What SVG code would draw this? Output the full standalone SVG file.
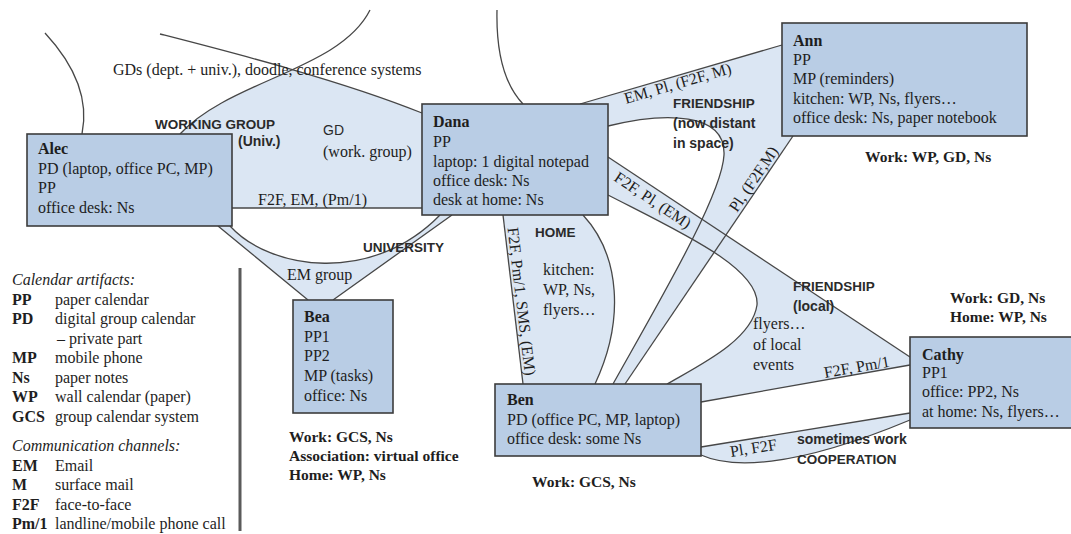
<svg xmlns="http://www.w3.org/2000/svg" width="1071" height="534" viewBox="0 0 1071 534">
  <style>
    .band { fill: #dbe6f3; stroke: none; }
    .edge { fill: none; stroke: #474747; stroke-width: 1.3; }
    .box { fill: #b9cde5; stroke: #3c3c3c; stroke-width: 1.6; }
    .t { font-family: "Liberation Serif", "Times New Roman", serif; font-size: 16px; fill: #1e1e1e; }
    .tb { font-family: "Liberation Serif", "Times New Roman", serif; font-size: 16px; font-weight: bold; fill: #1e1e1e; }
    .ctx { font-family: "Liberation Serif", "Times New Roman", serif; font-size: 15.5px; font-weight: bold; fill: #1e1e1e; }
    .grp { font-family: "Liberation Sans", Arial, sans-serif; font-size: 13.5px; font-weight: bold; fill: #2a2a2a; }
    .grpl { font-family: "Liberation Sans", Arial, sans-serif; font-size: 14px; font-weight: bold; fill: #2a2a2a; }
    .sans { font-family: "Liberation Sans", Arial, sans-serif; font-size: 14px; fill: #2a2a2a; }
    .it { font-family: "Liberation Serif", "Times New Roman", serif; font-size: 16px; font-style: italic; fill: #1e1e1e; }
  </style>
  <defs>
    <clipPath id="wgClip">
      <path d="M180,134 C230,80 340,70 370,10 L600,10 L600,260 L180,260 Z"/>
    </clipPath>
  </defs>
  <rect width="1071" height="534" fill="#ffffff"/>

  <g id="connectors">
    <!-- filled relation areas -->
    <path class="band" clip-path="url(#wgClip)" d="M160,34 C230,52 340,80 422,113 L422,208 L232,208 L232,134 L160,134 Z"/>
    <path class="band" d="M218,226 L308,300 L333,300 L452,215 L440,215 C372,285 270,270 230,226 Z"/>
    <path class="band" d="M503,215 L523,384 L595,384 C625,320 620,255 583,215 Z"/>
    <path class="band" d="M580,104 L782,45 L782,136 L793,136 L625,384 L613,384 C660,300 722,195 724,155 C726,112 665,112 608,126 L608,104 Z"/>
    <path class="band" d="M608,157 L910,357 L910,365 L701,402 L701,384 L667,384 C700,365 752,340 757,305 C760,268 680,232 608,195 Z"/>
    <path class="band" d="M701,447 L910,413 L910,420 C790,470 730,468 701,455 Z"/>

    <!-- outlines -->
    <path class="edge" d="M45,33 C70,60 90,95 82,134"/>
    <path class="edge" d="M180,134 C230,80 340,70 370,10"/>
    <path class="edge" d="M160,34 C230,52 340,80 422,113"/>
    <path class="edge" d="M232,208 L422,208"/>
    <path class="edge" d="M218,226 L308,300 M333,300 L452,215"/>
    <path class="edge" d="M230,226 C270,270 372,285 440,215"/>
    <path class="edge" d="M497,10 C496,55 505,85 523,104"/>
    <path class="edge" d="M503,215 L523,384"/>
    <path class="edge" d="M583,215 C620,255 625,320 595,384"/>
    <path class="edge" d="M580,104 L782,45"/>
    <path class="edge" d="M608,126 C665,112 726,112 724,155 C722,195 660,300 613,384"/>
    <path class="edge" d="M793,136 L625,384"/>
    <path class="edge" d="M608,157 L910,357"/>
    <path class="edge" d="M608,195 C680,232 760,268 757,305 C752,340 700,365 667,384"/>
    <path class="edge" d="M910,365 L701,402"/>
    <path class="edge" d="M701,447 L910,413"/>
    <path class="edge" d="M701,455 C730,468 790,470 910,420"/>

    <!-- relation labels -->
    <text class="t" x="113" y="75">GDs (dept. + univ.), doodle, conference systems</text>
    <text class="grp" x="155" y="129">WORKING GROUP</text>
    <text class="grpl" x="238" y="146">(Univ.)</text>
    <text class="sans" x="323" y="135">GD</text>
    <text class="t" x="323" y="157">(work. group)</text>
    <text class="t" x="258" y="205">F2F, EM, (Pm/1)</text>
    <text class="grp" x="363" y="252">UNIVERSITY</text>
    <text class="t" x="287" y="280">EM group</text>

    <text class="t" transform="translate(626,104) rotate(-16.3)">EM, Pl, (F2F, M)</text>
    <text class="grp" x="673" y="108">FRIENDSHIP</text>
    <text class="grpl" x="673" y="128">(now distant</text>
    <text class="grpl" x="673" y="148">in space)</text>
    <text class="t" transform="translate(737,213) rotate(-55.9)">Pl, (F2F,M)</text>
    <text class="t" transform="translate(613,180) rotate(33.7)">F2F, Pl, (EM)</text>

    <text class="t" transform="translate(507.5,228) rotate(83.25)" font-size="15">F2F, Pm/1, SMS, (EM)</text>
    <text class="grp" x="535" y="237">HOME</text>
    <text class="t" x="543" y="275">kitchen:</text>
    <text class="t" x="543" y="295">WP, Ns,</text>
    <text class="t" x="543" y="315">flyers…</text>

    <text class="grp" x="793" y="291">FRIENDSHIP</text>
    <text class="grpl" x="793" y="311">(local)</text>
    <text class="t" x="753" y="329">flyers…</text>
    <text class="t" x="753" y="350">of local</text>
    <text class="t" x="753" y="370">events</text>
    <text class="t" transform="translate(825,378) rotate(-10)" font-size="15">F2F, Pm/1</text>

    <text class="t" transform="translate(731,457) rotate(-9.2)" font-size="14">Pl, F2F</text>
    <text class="grpl" x="797" y="444">sometimes work</text>
    <text class="grp" x="797" y="464">COOPERATION</text>
  </g>

  <g id="node-alec">
    <rect class="box" x="27" y="134" width="205" height="92"/>
    <text class="tb" x="38" y="154">Alec</text>
    <text class="t" x="38" y="174">PD (laptop, office PC, MP)</text>
    <text class="t" x="38" y="193">PP</text>
    <text class="t" x="38" y="213">office desk: Ns</text>
  </g>

  <g id="node-dana">
    <rect class="box" x="422" y="104" width="186" height="111"/>
    <text class="tb" x="433" y="127">Dana</text>
    <text class="t" x="433" y="147">PP</text>
    <text class="t" x="433" y="167">laptop: 1 digital notepad</text>
    <text class="t" x="433" y="186">office desk: Ns</text>
    <text class="t" x="433" y="205">desk at home: Ns</text>
  </g>

  <g id="node-ann">
    <rect class="box" x="782" y="23" width="245" height="113"/>
    <text class="tb" x="793" y="46">Ann</text>
    <text class="t" x="793" y="65">PP</text>
    <text class="t" x="793" y="84">MP (reminders)</text>
    <text class="t" x="793" y="104">kitchen: WP, Ns, flyers…</text>
    <text class="t" x="793" y="123">office desk: Ns, paper notebook</text>
    <text class="ctx" x="865" y="162">Work: WP, GD, Ns</text>
  </g>

  <g id="node-bea">
    <rect class="box" x="293" y="300" width="100" height="113"/>
    <text class="tb" x="304" y="322">Bea</text>
    <text class="t" x="304" y="342">PP1</text>
    <text class="t" x="304" y="361">PP2</text>
    <text class="t" x="304" y="381">MP (tasks)</text>
    <text class="t" x="304" y="401">office: Ns</text>
    <text class="ctx" x="289" y="442">Work: GCS, Ns</text>
    <text class="ctx" x="289" y="461">Association: virtual office</text>
    <text class="ctx" x="289" y="480">Home: WP, Ns</text>
  </g>

  <g id="node-ben">
    <rect class="box" x="495" y="384" width="206" height="72"/>
    <text class="tb" x="507" y="405">Ben</text>
    <text class="t" x="507" y="425">PD (office PC, MP, laptop)</text>
    <text class="t" x="507" y="444">office desk: some Ns</text>
    <text class="ctx" x="532" y="487">Work: GCS, Ns</text>
  </g>

  <g id="node-cathy">
    <rect class="box" x="910" y="337" width="170" height="91"/>
    <text class="tb" x="922" y="360">Cathy</text>
    <text class="t" x="922" y="378">PP1</text>
    <text class="t" x="922" y="397">office: PP2, Ns</text>
    <text class="t" x="922" y="417">at home: Ns, flyers…</text>
    <text class="ctx" x="950" y="303">Work: GD, Ns</text>
    <text class="ctx" x="950" y="322">Home: WP, Ns</text>
  </g>

  <g id="legend">
    <line x1="240" y1="268" x2="240" y2="531" stroke="#5a5a5a" stroke-width="3"/>
    <text class="it" x="12" y="285">Calendar artifacts:</text>
    <text class="tb" x="12" y="304.5">PP</text><text class="t" x="55" y="304.5">paper calendar</text>
    <text class="tb" x="12" y="324">PD</text><text class="t" x="55" y="324">digital group calendar</text>
    <text class="t" x="57" y="343.5">– private part</text>
    <text class="tb" x="12" y="363">MP</text><text class="t" x="55" y="363">mobile phone</text>
    <text class="tb" x="12" y="382.5">Ns</text><text class="t" x="55" y="382.5">paper notes</text>
    <text class="tb" x="12" y="402">WP</text><text class="t" x="55" y="402">wall calendar (paper)</text>
    <text class="tb" x="12" y="421.5">GCS</text><text class="t" x="55" y="421.5">group calendar system</text>
    <text class="it" x="12" y="451">Communication channels:</text>
    <text class="tb" x="12" y="470.5">EM</text><text class="t" x="55" y="470.5">Email</text>
    <text class="tb" x="12" y="490">M</text><text class="t" x="55" y="490">surface mail</text>
    <text class="tb" x="12" y="509.5">F2F</text><text class="t" x="55" y="509.5">face-to-face</text>
    <text class="tb" x="12" y="529">Pm/1</text><text class="t" x="55" y="529">landline/mobile phone call</text>
  </g>
</svg>
